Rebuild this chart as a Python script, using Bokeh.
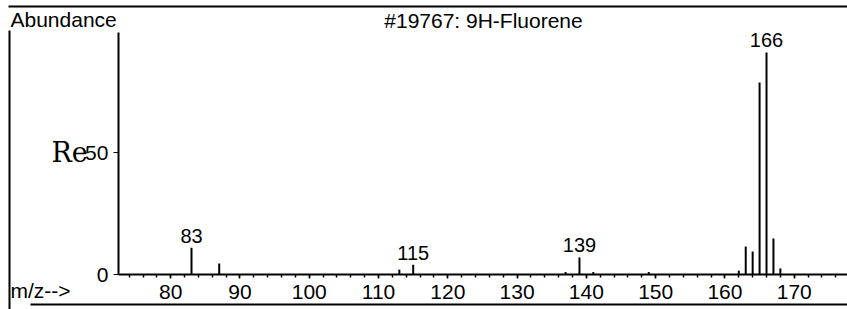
from bokeh.plotting import figure
from bokeh.models import Label, SingleIntervalTicker, FixedTicker, Range1d, ColumnDataSource, BoxAnnotation
from bokeh.core.properties import value
from bokeh.embed import file_html
from bokeh.resources import INLINE

# m/z values and relative abundance of the spectrum peaks
mz = [83, 87, 113, 115, 137, 139, 141, 149, 162, 163, 164, 165, 166, 167, 168]
abund = [11.0, 4.5, 2.0, 4.0, 1.0, 7.0, 1.0, 1.0, 1.6, 11.5, 9.4, 78.7, 91.0, 14.8, 2.5]

# peaks labelled with their m/z
label_mz = [83, 115, 139, 166]
label_abund = [11.0, 4.0, 7.0, 91.0]
label_text = ["83", "115", "139", "166"]

title_text = "#19767: 9H-Fluorene"
y_ticks = [0, 50]

FONT = "Liberation Sans"
W, H = 847, 309

p = figure(width=W, height=H, output_backend="svg", toolbar_location=None,
           x_range=Range1d(55.43, 177.69), y_range=Range1d(-14.34, 112.3),
           min_border=0)
p.title.visible = False
p.outline_line_color = None
p.xgrid.visible = False
p.ygrid.visible = False
p.background_fill_color = "white"
p.border_fill_color = "white"

src = ColumnDataSource(dict(x=mz, top=abund, bottom=[0] * len(mz)))
p.segment(x0="x", y0="bottom", x1="x", y1="top", source=src, line_color="black", line_width=2)

lsrc = ColumnDataSource(dict(x=label_mz, y=label_abund, t=label_text))
p.text(x="x", y="y", text="t", source=lsrc, text_align="center", text_baseline="alphabetic",
       y_offset=-12, text_font=value(FONT), text_font_size="20px", text_color="black")

# x axis, drawn at y = 0 and limited to the spectrum's m/z span
xa = p.xaxis[0]
xa.fixed_location = 0
xa.bounds = (72.46, 177.69)
xa.ticker = SingleIntervalTicker(interval=10, num_minor_ticks=5)
xa.axis_line_width = 2
xa.axis_line_color = "black"
xa.major_tick_in = 0
xa.major_tick_out = 4
xa.minor_tick_in = 0
xa.minor_tick_out = 3
xa.major_tick_line_width = 1.5
xa.minor_tick_line_width = 1.5
xa.major_label_standoff = 6
xa.major_label_text_font = FONT
xa.major_label_text_font_size = "21px"
xa.major_label_text_color = "black"

# y axis, drawn at the left end of the m/z span
ya = p.yaxis[0]
ya.fixed_location = 72.46
ya.bounds = (0, 99.2)
ya.ticker = FixedTicker(ticks=y_ticks)
ya.axis_line_width = 2
ya.axis_line_color = "black"
ya.major_tick_in = 0
ya.major_tick_out = 5
ya.minor_tick_out = 0
ya.major_label_standoff = 5
ya.major_label_text_font = FONT
ya.major_label_text_font_size = "21px"
ya.major_label_text_color = "black"

# texts (screen units from the frame's bottom-left corner)
def add_text(x, y, text, align="left", font=FONT, size="21px"):
    p.add_layout(Label(x=x, y=y, x_units="screen", y_units="screen", text=text,
                       text_align=align, text_baseline="alphabetic", text_font=font,
                       text_font_size=size, text_color="black"))

add_text(10, H - 19, "Abundance")
add_text(483, H - 20, title_text, align="center")
add_text(10, H - 290, "m/z-->")
add_text(51, H - 152, "Re", font="DejaVu Serif", size="27px")

# page frame lines of the printout
for l, r, b, t in [(8, 10, 0, H - 30), (8, W, H - 7, H - 5), (30, W, H - 305, H - 303)]:
    p.add_layout(BoxAnnotation(left=l, right=r, bottom=b, top=t, left_units="screen",
                               right_units="screen", bottom_units="screen", top_units="screen",
                               fill_color="black", fill_alpha=1, line_color=None))

open("out.html", "w").write(file_html(p, INLINE))
